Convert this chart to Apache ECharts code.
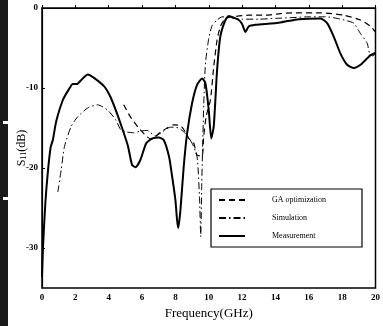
<!DOCTYPE html>
<html>
<head>
<meta charset="utf-8">
<script src="https://cdn.jsdelivr.net/npm/echarts@6/dist/echarts.min.js"></script>
<style>
  html, body { margin: 0; padding: 0; background: #fff; }
  #chart { width: 383px; height: 326px; }
</style>
</head>
<body>
<div id="chart"></div>
<script>
// S11 (dB) vs frequency (GHz)
const xTicks = [0, 2, 4, 6, 8, 10, 12, 14, 16, 18, 20]
const yTicks = [-30, -20, -10, 0]

const gaFreq = [4.9, 5.3, 5.8, 6.3, 6.6, 7.0, 7.5, 7.9, 8.3, 8.6, 8.8, 9.1, 9.3, 9.6, 9.7, 9.85, 10.1, 10.3, 10.5, 10.7, 11.0, 11.4, 12.4, 13.4, 14.3, 15.0, 16.7, 18.1, 19.1, 19.7, 20]
const gaDb = [-12.1, -13.6, -15.0, -16.1, -16.4, -15.7, -15.0, -14.6, -14.7, -15.5, -16.3, -16.9, -18.4, -18.5, -16, -13.5, -11.5, -7.3, -4.0, -2.3, -1.3, -1.1, -0.9, -0.9, -0.7, -0.6, -0.6, -0.9, -1.5, -2.3, -3.0]

const simFreq = [0.95, 1.15, 1.35, 1.75, 2.14, 2.74, 3.33, 3.93, 4.43, 4.72, 5.1, 5.5, 5.9, 6.3, 6.8, 7.2, 7.7, 8.2, 8.6, 9.0, 9.3, 9.45, 9.52, 9.58, 9.7, 9.8, 10.0, 10.2, 10.5, 10.8, 11.2, 12, 13, 14, 15, 16, 17, 17.7, 18.3, 18.7, 19.1, 19.5, 19.65, 19.85, 20]
const simDb = [-23, -20.25, -17.3, -14.8, -13.6, -12.5, -12.1, -12.75, -14, -15.2, -15.5, -15.6, -15.4, -15.3, -16.0, -15.5, -14.9, -15.0, -15.7, -16.9, -18.6, -24, -28.6, -22, -12, -7, -3.8, -2.2, -1.5, -1.1, -1.2, -1.4, -1.4, -1.3, -1.2, -1.1, -1.1, -1.3, -1.6, -1.9, -3.2, -4.4, -5.7, -6.0, -5.6]

const measFreq = [0, 0.06, 0.2, 0.36, 0.52, 0.65, 0.85, 1.25, 1.6, 1.85, 2.1, 2.35, 2.74, 3.1, 3.73, 4.1, 4.5, 4.9, 5.16, 5.4, 5.6, 5.9, 6.25, 6.63, 7.0, 7.3, 7.62, 7.8, 8.0, 8.1, 8.17, 8.3, 8.5, 8.7, 9.0, 9.3, 9.6, 9.8, 10.0, 10.15, 10.3, 10.5, 10.7, 11.0, 11.2, 11.5, 11.8, 12.0, 12.2, 12.4, 12.8, 13.4, 14.3, 15.4, 16.7, 17.1, 17.5, 17.9, 18.3, 18.7, 19.1, 19.5, 19.7, 20]
const measDb = [-33.6, -29.9, -24.4, -20.3, -17.4, -16.5, -14.2, -11.5, -10.2, -9.5, -9.5, -9.0, -8.3, -8.7, -9.8, -11.1, -13.2, -15.6, -17.3, -19.6, -19.9, -19.0, -16.9, -16.3, -16.2, -16.5, -18.6, -21, -24, -26.5, -27.5, -25.3, -19.8, -15.7, -11.9, -9.6, -8.8, -9.4, -12.75, -16.3, -14.8, -7.75, -3.5, -1.5, -1.0, -1.2, -1.5, -2.0, -3.0, -2.3, -2.1, -2.0, -1.8, -1.4, -1.3, -1.9, -3.6, -5.7, -7.1, -7.5, -7.1, -6.3, -5.9, -5.6]

const pairs = (xs, ys) => xs.map((x, i) => [x, ys[i]])

const serif = "'Liberation Serif', 'DejaVu Serif', serif"
const chart = echarts.init(document.getElementById("chart"))

chart.setOption({
  animation: false,
  graphic: [
    { type: "rect", left: 0, top: 0, shape: { width: 8, height: 326 }, style: { fill: "#1a1a1a" } },
    { type: "rect", left: 3, top: 121, shape: { width: 5, height: 3 }, style: { fill: "#fff" } },
    { type: "rect", left: 3, top: 197, shape: { width: 5, height: 3 }, style: { fill: "#fff" } },
  ],
  grid: {
    left: 42,
    right: 4,
    top: 8,
    bottom: 38,
    show: true,
    borderColor: "#000",
    borderWidth: 1.5,
  },
  legend: {
    orient: "vertical",
    left: 211,
    top: 189,
    padding: [7, 36, 7, 7],
    itemGap: 10,
    itemWidth: 26,
    itemHeight: 8,
    borderColor: "#000",
    borderWidth: 1.2,
    backgroundColor: "#fff",
    itemStyle: { opacity: 0 },
    textStyle: {
      fontFamily: serif,
      fontSize: 8,
      color: "#000",
      padding: [0, 0, 0, 22],
    },
    data: ["GA optimization", "Simulation", "Measurement"],
  },
  xAxis: {
    type: "value",
    min: 0,
    max: 20,
    interval: 2,
    name: "Frequency(GHz)",
    nameLocation: "middle",
    nameGap: 14,
    nameTextStyle: { fontFamily: serif, fontSize: 13, color: "#000" },
    axisLine: { lineStyle: { color: "#000", width: 1.2 } },
    axisTick: { inside: true, length: 3, lineStyle: { color: "#000" }, customValues: xTicks },
    axisLabel: { fontFamily: serif, fontSize: 9, fontWeight: "bold", color: "#000", margin: 5, customValues: xTicks },
    splitLine: { show: false },
  },
  yAxis: {
    type: "value",
    min: -35,
    max: 0,
    interval: 5,
    name: "{s|S}{sub|11}{s|(dB)}",
    nameLocation: "middle",
    nameGap: 14,
    nameMoveOverlap: false,
    nameTextStyle: {
      color: "#000",
      rich: {
        s: { fontFamily: serif, fontSize: 12, color: "#000" },
        sub: { fontFamily: serif, fontSize: 8, color: "#000", verticalAlign: "bottom", padding: [4, 0, 0, 0] },
      },
    },
    axisLine: { lineStyle: { color: "#000", width: 1.2 } },
    axisTick: { inside: true, length: 3, lineStyle: { color: "#000" }, customValues: yTicks },
    axisLabel: { fontFamily: serif, fontSize: 9, fontWeight: "bold", color: "#000", margin: 4, customValues: yTicks },
    splitLine: { show: false },
  },
  series: [
    {
      name: "GA optimization",
      type: "line",
      data: pairs(gaFreq, gaDb),
      smooth: 0.2,
      symbol: "none",
      lineStyle: { color: "#000", width: 1.2, type: [6, 4] },
      itemStyle: { color: "#000" },
    },
    {
      name: "Simulation",
      type: "line",
      data: pairs(simFreq, simDb),
      smooth: 0.2,
      symbol: "none",
      lineStyle: { color: "#000", width: 1, type: [7, 3, 1.5, 3] },
      itemStyle: { color: "#000" },
    },
    {
      name: "Measurement",
      type: "line",
      data: pairs(measFreq, measDb),
      smooth: 0.2,
      symbol: "none",
      lineStyle: { color: "#000", width: 2 },
      itemStyle: { color: "#000" },
    },
  ],
})
</script>
</body>
</html>
